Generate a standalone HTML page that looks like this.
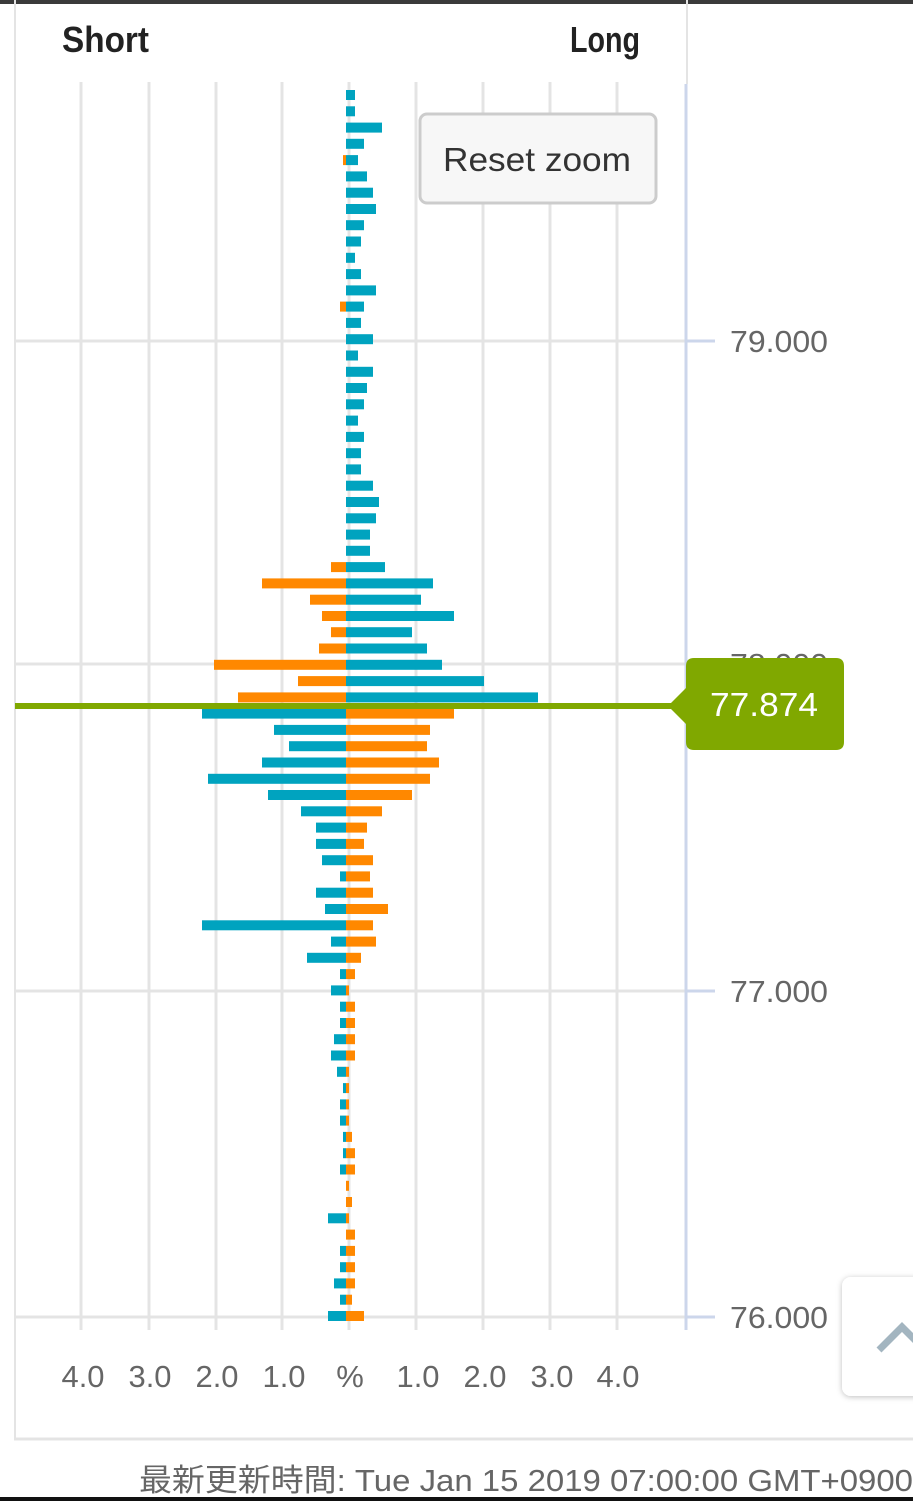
<!DOCTYPE html>
<html><head><meta charset="utf-8"><style>
html,body{margin:0;padding:0;background:#fff;width:913px;height:1501px;overflow:hidden}
svg{display:block}
</style></head><body>
<svg id="s" width="913" height="1501" xmlns="http://www.w3.org/2000/svg">
<rect x="0" y="0" width="913" height="4" fill="#3a3a3a"/>
<line x1="15" y1="0" x2="15" y2="1440" stroke="#e4e4e4" stroke-width="2"/>
<line x1="14" y1="1439" x2="913" y2="1439" stroke="#e4e4e4" stroke-width="3"/>
<line x1="687" y1="0" x2="687" y2="84" stroke="#e4e4e4" stroke-width="2"/>
<g stroke="#e4e4e4" stroke-width="3">
<line x1="81" y1="82" x2="81" y2="1330"/><line x1="149" y1="82" x2="149" y2="1330"/>
<line x1="216" y1="82" x2="216" y2="1330"/><line x1="282" y1="82" x2="282" y2="1330"/>
<line x1="349" y1="82" x2="349" y2="1330"/><line x1="416" y1="82" x2="416" y2="1330"/>
<line x1="483" y1="82" x2="483" y2="1330"/><line x1="550" y1="82" x2="550" y2="1330"/>
<line x1="617" y1="82" x2="617" y2="1330"/>
<line x1="15" y1="341" x2="686" y2="341"/><line x1="15" y1="664" x2="686" y2="664"/>
<line x1="15" y1="991" x2="686" y2="991"/><line x1="15" y1="1317" x2="686" y2="1317"/>
</g>
<g stroke="#ccd6eb" stroke-width="3">
<line x1="686" y1="84" x2="686" y2="1330"/>
<line x1="686" y1="341" x2="715" y2="341"/><line x1="686" y1="664" x2="715" y2="664"/>
<line x1="686" y1="991" x2="715" y2="991"/><line x1="686" y1="1317" x2="715" y2="1317"/>
</g>
<g id="bars"></g>
<g font-family="Liberation Sans, sans-serif" font-size="31" fill="#666">
<text x="730" y="352" textLength="98" lengthAdjust="spacingAndGlyphs">79.000</text>
<text x="730" y="675" textLength="98" lengthAdjust="spacingAndGlyphs">78.000</text>
<text x="730" y="1002" textLength="98" lengthAdjust="spacingAndGlyphs">77.000</text>
<text x="730" y="1328" textLength="98" lengthAdjust="spacingAndGlyphs">76.000</text>
</g>
<rect x="15" y="703" width="660" height="6" fill="#80a800"/>
<path d="M668 706 L686 688 L686 666 Q686 658 694 658 L836 658 Q844 658 844 666 L844 742 Q844 750 836 750 L694 750 Q686 750 686 742 L686 724 Z" fill="#80a800"/>
<text x="764" y="716" font-family="Liberation Sans, sans-serif" font-size="33" fill="#fff" text-anchor="middle" textLength="108" lengthAdjust="spacingAndGlyphs">77.874</text>
<g font-family="Liberation Sans, sans-serif" font-size="31" fill="#666" text-anchor="middle">
<text x="83" y="1387" textLength="43" lengthAdjust="spacingAndGlyphs">4.0</text>
<text x="150" y="1387" textLength="43" lengthAdjust="spacingAndGlyphs">3.0</text>
<text x="217" y="1387" textLength="43" lengthAdjust="spacingAndGlyphs">2.0</text>
<text x="284" y="1387" textLength="43" lengthAdjust="spacingAndGlyphs">1.0</text>
<text x="350" y="1387">%</text>
<text x="418" y="1387" textLength="43" lengthAdjust="spacingAndGlyphs">1.0</text>
<text x="485" y="1387" textLength="43" lengthAdjust="spacingAndGlyphs">2.0</text>
<text x="552" y="1387" textLength="43" lengthAdjust="spacingAndGlyphs">3.0</text>
<text x="618" y="1387" textLength="43" lengthAdjust="spacingAndGlyphs">4.0</text>
</g>
<g font-family="Liberation Sans, sans-serif" font-size="36" font-weight="bold" fill="#222">
<text x="62" y="52" textLength="87" lengthAdjust="spacingAndGlyphs">Short</text>
<text x="570" y="52" textLength="70" lengthAdjust="spacingAndGlyphs">Long</text>
</g>
<rect x="420" y="114" width="236" height="89" rx="7" fill="#f7f7f7" stroke="#cccccc" stroke-width="3"/>
<text x="537" y="171" font-family="Liberation Sans, sans-serif" font-size="33" fill="#333" text-anchor="middle" textLength="188" lengthAdjust="spacingAndGlyphs">Reset zoom</text>
<defs><filter id="sh" x="-20%" y="-20%" width="140%" height="140%"><feDropShadow dx="0" dy="1" stdDeviation="3" flood-color="#000" flood-opacity="0.25"/></filter></defs>
<rect x="842" y="1277" width="90" height="119" rx="9" fill="#fff" filter="url(#sh)"/>
<polyline points="879,1350 902,1327 925,1350" fill="none" stroke="#a3b5c0" stroke-width="7"/>
<text x="139" y="1491" font-family="Liberation Sans, 'Noto Sans CJK JP', sans-serif" font-size="31" fill="#666" textLength="774" lengthAdjust="spacingAndGlyphs">最新更新時間: Tue Jan 15 2019 07:00:00 GMT+0900</text>
<rect x="0" y="1497" width="913" height="4" fill="#111"/>
</svg>
<script>
(function(){
var upper=[[9,0],[9,0],[36,0],[18,0],[12,3],[21,0],[27,0],[30,0],[18,0],[15,0],[9,0],[15,0],[30,0],[18,6],[15,0],[27,0],[12,0],[27,0],[21,0],[18,0],[12,0],[18,0],[15,0],[15,0],[27,0],[33,0],[30,0],[24,0],[24,0],[39,15],[87,84],[75,36],[108,24],[66,15],[81,27],[96,132],[138,48],[192,108]];
var lower=[[144,108],[72,84],[57,81],[84,93],[138,84],[78,66],[45,36],[30,21],[30,18],[24,27],[6,24],[30,27],[21,42],[144,27],[15,30],[39,15],[6,9],[15,3],[6,9],[6,9],[12,9],[15,9],[9,3],[3,3],[6,3],[6,3],[3,6],[3,9],[6,9],[0,3],[0,6],[18,3],[0,9],[6,9],[6,9],[12,9],[6,6],[18,18]];
var B="#00a3bf",O="#ff8800",c=346,g=document.getElementById("bars"),NS="http://www.w3.org/2000/svg";
function r(x,y,w,f){if(w<=0)return;var e=document.createElementNS(NS,"rect");e.setAttribute("x",x);e.setAttribute("y",y.toFixed(1));e.setAttribute("width",w);e.setAttribute("height","10");e.setAttribute("fill",f);g.appendChild(e);}
for(var i=0;i<upper.length;i++){var y=95+i*16.28-5;r(c,y,upper[i][0],B);r(c-upper[i][1],y,upper[i][1],O);}
for(var j=0;j<lower.length;j++){var y2=95+(38+j)*16.28-5;r(c-lower[j][0],y2,lower[j][0],B);r(c,y2,lower[j][1],O);}
})();
</script>
</body></html>
